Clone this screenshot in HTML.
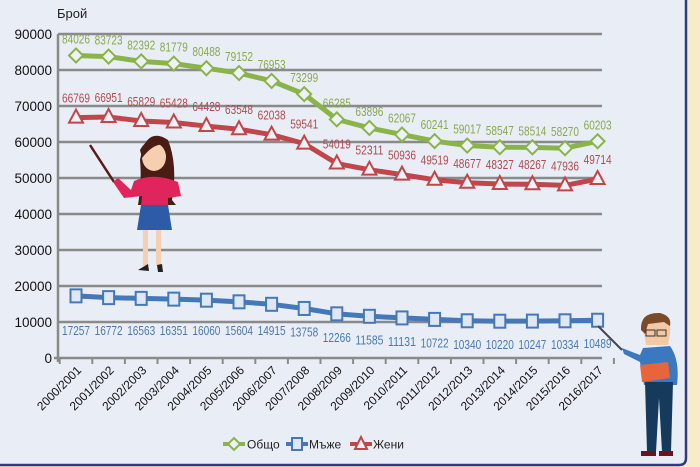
<!DOCTYPE html>
<html><head><meta charset="utf-8"><style>
html,body{margin:0;padding:0;}
body{width:700px;height:467px;overflow:hidden;background:#f6ecc8;}
svg{display:block;font-family:"Liberation Sans","DejaVu Sans",sans-serif;}
</style></head><body>
<svg id="s" width="700" height="467" viewBox="0 0 700 467" xmlns="http://www.w3.org/2000/svg">
<rect x="0" y="0" width="700" height="467" fill="#f6ecc8"/>
<path d="M-5,-5 H686 V458 Q686,465 679,465 H-5 Z" fill="#e9eef6" stroke="#2e3b80" stroke-width="2.5"/>
<text x="57" y="18" font-size="13" fill="#222">Брой</text>
<g id="grid"></g>
<g id="ser"></g>
<!-- woman -->
<g>
<line x1="90" y1="145" x2="114" y2="182" stroke="#5a1a1a" stroke-width="2.5"/>
<path d="M142,150 Q150,128 168,140 Q178,165 172,200 L176,205 L138,205 Q142,180 140,160Z" fill="#4a1d14"/>
<ellipse cx="154" cy="157" rx="12" ry="14" fill="#f6cfb0"/>
<path d="M140,150 Q150,132 168,146 Q156,140 142,158Z" fill="#4a1d14"/>
<path d="M134,181 Q154,172 178,182 L181,196 L168,198 L168,206 L141,206 L142,196 L124,198 L113,182 L118,178 L131,190Z" fill="#e0245c"/>
<path d="M141,205 L168,205 L172,230 L137,230Z" fill="#2e5ba8"/>
<rect x="143" y="230" width="5" height="36" fill="#f6cfb0"/>
<rect x="156" y="230" width="5" height="36" fill="#f6cfb0"/>
<path d="M138,270 L148,264 L149,271Z" fill="#222"/>
<path d="M157,265 L162,264 L163,272 L158,272Z" fill="#222"/>
</g>
<!-- man -->
<g>
<line x1="598" y1="326" x2="622" y2="350" stroke="#445" stroke-width="2"/>
<path d="M643,326 Q646,314 662,316 Q672,320 670,334 L668,345 L646,345Z" fill="#f3c9a4"/>
<path d="M641,330 Q640,312 660,313 Q672,316 670,326 L664,322 L648,324 L645,334Z" fill="#7a4a2a"/>
<rect x="646" y="330" width="9" height="6" fill="none" stroke="#333" stroke-width="1"/>
<rect x="657" y="330" width="9" height="6" fill="none" stroke="#333" stroke-width="1"/>
<path d="M643,348 L670,346 Q680,360 677,385 L644,385 L640,362 L624,354 L622,348 L640,355Z" fill="#3a78c0"/>
<path d="M640,365 L668,362 L670,378 L642,382Z" fill="#e8643a"/>
<path d="M645,382 L673,382 L671,452 L662,452 L659,398 L656,452 L647,452Z" fill="#163a5c"/>
<rect x="641" y="451" width="15" height="5" fill="#6a1616"/>
<rect x="659" y="451" width="14" height="5" fill="#6a1616"/>
</g>
<g id="leg" font-size="12" fill="#222">
<line x1="223" y1="444" x2="245" y2="444" stroke="#8ab44a" stroke-width="4"/>
<path d="M234,438 L240,444 L234,450 L228,444Z" fill="#eef2f8" stroke="#8ab44a" stroke-width="2"/>
<text x="247" y="448.5">Общо</text>
<line x1="286" y1="444" x2="308" y2="444" stroke="#4478b8" stroke-width="4"/>
<rect x="292" y="438" width="10" height="12" fill="#dfe7f3" stroke="#4478b8" stroke-width="2"/>
<text x="309" y="448.5">Мъже</text>
<line x1="350" y1="444" x2="372" y2="444" stroke="#c0464a" stroke-width="4"/>
<path d="M361,437 L367,449 L355,449Z" fill="#eef2f8" stroke="#c0464a" stroke-width="2"/>
<text x="373" y="448.5">Жени</text>
</g>
</svg>
<script>
var NS="http://www.w3.org/2000/svg";
function el(p,t,a,txt){var e=document.createElementNS(NS,t);for(var k in a)e.setAttribute(k,a[k]);if(txt!==undefined)e.textContent=txt;p.appendChild(e);return e;}
var g=document.getElementById("grid"),s=document.getElementById("ser");
function Y(v){return 358-v*0.0036;}
function X(i){return 76+i*32.6;}
for(var k=0;k<=9;k++){var y=Y(k*10000);
 if(k>0)el(g,"line",{x1:58,x2:602,y1:y,y2:y,stroke:"#8a8a8a","stroke-width":2.5});
 el(g,"text",{x:52,y:y+5,"text-anchor":"end","font-size":13.5,fill:"#111"},String(k*10000));}
el(g,"line",{x1:58,x2:58,y1:34,y2:362,stroke:"#8a8a8a","stroke-width":2.5});
el(g,"line",{x1:54,x2:602,y1:358,y2:358,stroke:"#8a8a8a","stroke-width":2.5});
var yrs=[];for(var i=0;i<17;i++)yrs.push((2000+i)+"/"+(2001+i));
for(var i=0;i<=17;i++){var x=59.7+i*32.6;el(g,"line",{x1:x,x2:x,y1:358,y2:364,stroke:"#8a8a8a","stroke-width":2});}
for(var i=0;i<17;i++){var x=X(i)+6,y=371;el(g,"text",{x:x,y:y,"text-anchor":"end","font-size":12,fill:"#111",transform:"rotate(-45 "+x+" "+y+")"},yrs[i]);}
var O=[84026,83723,82392,81779,80488,79152,76953,73299,66285,63896,62067,60241,59017,58547,58514,58270,60203];
var Z=[66769,66951,65829,65428,64428,63548,62038,59541,54019,52311,50936,49519,48677,48327,48267,47936,49714];
var M=[17257,16772,16563,16351,16060,15604,14915,13758,12266,11585,11131,10722,10340,10220,10247,10334,10489];
function series(d,col,mk,lab,offf){
 var pts=d.map(function(v,i){return X(i)+","+Y(v);}).join(" ");
 el(s,"polyline",{points:pts,fill:"none",stroke:col,"stroke-width":5,"stroke-linejoin":"round"});
 d.forEach(function(v,i){var x=X(i),y=Y(v);
  if(mk=="d")el(s,"path",{d:"M"+x+","+(y-7)+" L"+(x+7)+","+y+" L"+x+","+(y+7)+" L"+(x-7)+","+y+"Z",fill:"#eef2f8",stroke:col,"stroke-width":2});
  if(mk=="s")el(s,"rect",{x:x-5.5,y:y-6.5,width:11,height:13,fill:"#dfe7f3",stroke:col,"stroke-width":2});
  if(mk=="t")el(s,"path",{d:"M"+x+","+(y-8)+" L"+(x+7)+","+(y+5)+" L"+(x-7)+","+(y+5)+"Z",fill:"#eef2f8",stroke:col,"stroke-width":2});
  el(s,"text",{x:x,y:offf(y,i),"text-anchor":"middle","font-size":12.5,textLength:28,lengthAdjust:"spacingAndGlyphs",fill:lab},String(v));
 });}
series(O,"#8ab44a","d","#8aa84e",function(y){return y-12;});
series(Z,"#c0464a","t","#b04a4e",function(y){return y-15;});
series(M,"#4478b8","s","#4a78b0",function(y){return Math.max(y+28,335);});
</script>
</body></html>
